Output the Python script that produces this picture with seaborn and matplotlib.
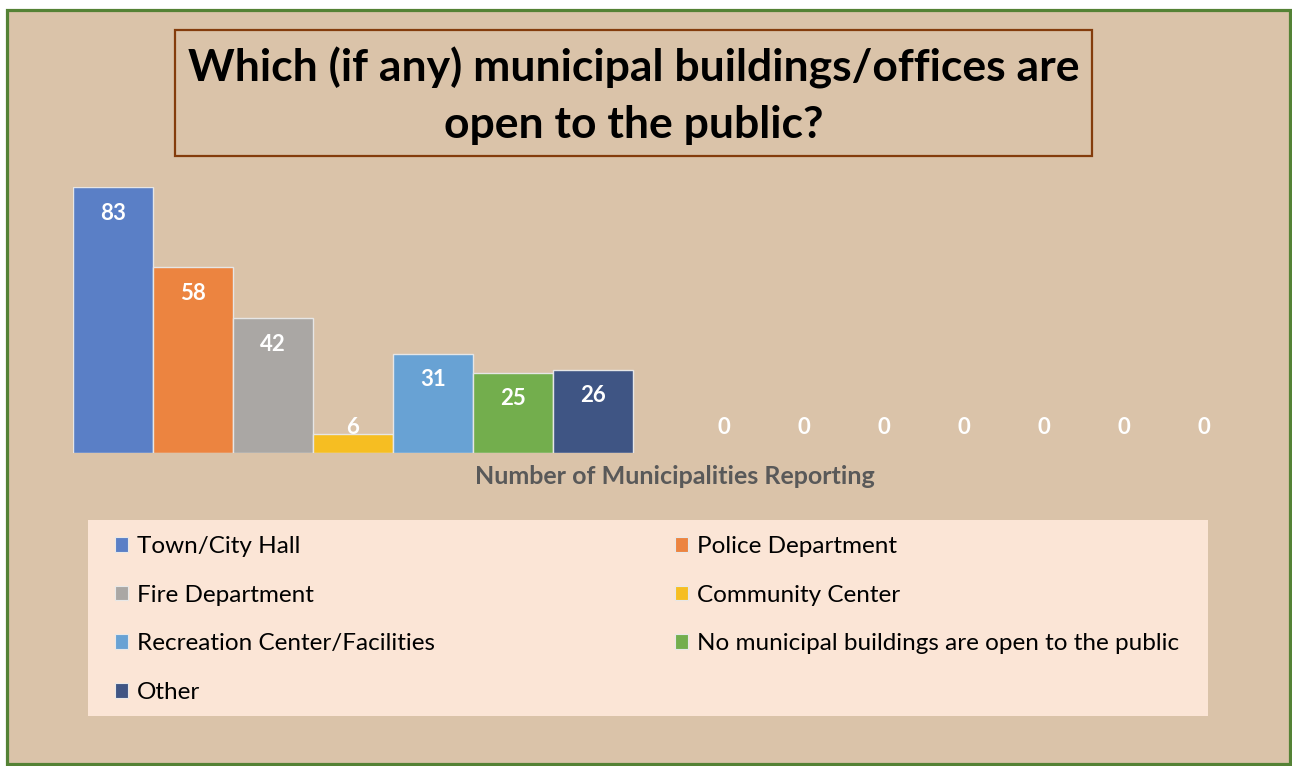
import numpy as np
import pandas as pd
import matplotlib
matplotlib.use("Agg")
import matplotlib.pyplot as plt
import seaborn as sns
from matplotlib.patches import Rectangle, Patch

# ---------------- data ----------------
categories = [
    "Town/City Hall",
    "Police Department",
    "Fire Department",
    "Community Center",
    "Recreation Center/Facilities",
    "No municipal buildings are open to the public",
    "Other",
]
values = [83, 58, 42, 6, 31, 25, 26]
zero_values = [0, 0, 0, 0, 0, 0, 0]
colors = ["#5a7fc6", "#ec8440", "#aaa7a4", "#f6be22", "#68a2d4", "#73ae4d", "#3f5584"]
title = "Which (if any) municipal buildings/offices are\nopen to the public?"
xlabel = "Number of Municipalities Reporting"

# ---------------- style ----------------
sns.set_theme(style="white")
plt.rcParams["font.family"] = ["Lato", "DejaVu Sans"]

SAND = "#dac3a9"
W, H = 1292, 766
fig = plt.figure(figsize=(W / 100, H / 100), dpi=100)
fig.patch.set_facecolor("white")


def fx(px):
    return px / W


def fy(py):
    return 1 - py / H


# sandy panel with green border
fig.add_artist(Rectangle((fx(7), fy(764)), fx(1290) - fx(7), fy(10) - fy(764),
                         transform=fig.transFigure, facecolor=SAND,
                         edgecolor="#548235", linewidth=2.3, zorder=0))
# title box
fig.add_artist(Rectangle((fx(175), fy(156)), fx(1092) - fx(175), fy(30) - fy(156),
                         transform=fig.transFigure, facecolor="none",
                         edgecolor="#843c0c", linewidth=1.6, zorder=1))
fig.text(fx(634), fy(96), title, ha="center", va="center", fontsize=32,
         fontweight="bold", color="black", linespacing=1.5, zorder=2)

# legend box
fig.add_artist(Rectangle((fx(88), fy(716)), fx(1208) - fx(88), fy(520) - fy(716),
                         transform=fig.transFigure, facecolor="#fbe5d6",
                         edgecolor="none", zorder=1))

# ---------------- bars ----------------
ax_left, ax_right, ax_top, ax_bot = 73, 1244, 187, 453
ax = fig.add_axes([fx(ax_left), fy(ax_bot), fx(ax_right) - fx(ax_left), (ax_bot - ax_top) / H])
ax.patch.set_alpha(0)

pos_named = np.arange(len(values), dtype=float)
gap = 0.6375
pos_zero = len(values) + gap + np.arange(len(zero_values), dtype=float)

df = pd.DataFrame({"pos": pos_named, "value": values, "cat": categories})
dfz = pd.DataFrame({"pos": pos_zero, "value": zero_values})

sns.barplot(data=df, x="pos", y="value", hue="cat", hue_order=categories,
            palette=dict(zip(categories, colors)), native_scale=True, dodge=False,
            width=1.0, edgecolor="#e6e6e6", linewidth=1.0, legend=False, ax=ax,
            saturation=1)
sns.barplot(data=dfz, x="pos", y="value", native_scale=True, width=1.0,
            color="none", linewidth=0, legend=False, ax=ax)

ymax = max(values)
ax.set_ylim(0, ymax)
ax.set_xlim(-0.5, pos_zero[-1] + 0.5)

off = 26 / (ax_bot - ax_top) * ymax
for p, v in list(zip(pos_named, values)) + list(zip(pos_zero, zero_values)):
    ax.text(p, max(v - off, off), f"{v}", ha="center", va="center",
            color="white", fontsize=16, fontweight="bold")

for s in ax.spines.values():
    s.set_visible(False)
ax.set_xticks([])
ax.set_yticks([])
ax.set_ylabel("")
ax.set_xlabel(xlabel, fontsize=18, fontweight="bold", color="#595959")
ax.xaxis.set_label_coords((675 - ax_left) / (ax_right - ax_left),
                          -(477 - ax_bot) / (ax_bot - ax_top))
ax.xaxis.label.set_va("center")

# ---------------- legend ----------------
handles = [Patch(facecolor=c, edgecolor="#e8e8e8", linewidth=0.8, label=cat)
           for c, cat in zip(colors, categories)]
leg_kw = dict(loc="upper left", frameon=False, fontsize=17.5, handlelength=0.55,
              handleheight=0.55, handletextpad=0.36, labelspacing=1.14,
              borderpad=0, borderaxespad=0, bbox_transform=fig.transFigure)
leg1 = fig.legend(handles=[handles[i] for i in (0, 2, 4, 6)],
                  bbox_to_anchor=(fx(115), fy(536)), **leg_kw)
leg2 = fig.legend(handles=[handles[i] for i in (1, 3, 5)],
                  bbox_to_anchor=(fx(675), fy(536)), **leg_kw)
for lg in (leg1, leg2):
    lg.set_zorder(3)
    for t in lg.get_texts():
        t.set_color("black")

fig.savefig("out.png", dpi=100)
